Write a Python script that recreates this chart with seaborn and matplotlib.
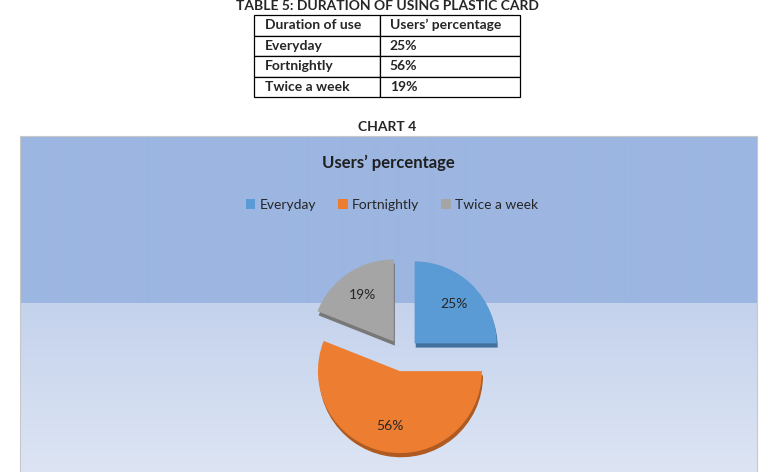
import numpy as np
import matplotlib
matplotlib.use("Agg")
from matplotlib import pyplot as plt
from matplotlib.patches import Patch
import matplotlib.patheffects as pe
import seaborn as sns

# data
categories = ["Everyday", "Fortnightly", "Twice a week"]
percentages = [25, 56, 19]
table_headers = ["Duration of use", "Users\u2019 percentage"]
table_title = "TABLE 5: DURATION OF USING PLASTIC CARD"
chart_caption = "CHART 4"
chart_title = "Users\u2019 percentage"

sns.set_style("white")
plt.rcParams['font.family'] = ['Lato', 'DejaVu Sans']

colors = ["#5b9bd5", "#ed7d31", "#a5a5a5"]
edge_colors = ["#41719c", "#ae5a21", "#787878"]

W, H = 771, 472
fig = plt.figure(figsize=(W / 100, H / 100), dpi=100)


def box(x0, y0, x1, y1):
    return [x0 / W, 1 - y1 / H, (x1 - x0) / W, (y1 - y0) / H]


# table title + table
fig.text(387 / W, 1 - 6 / H, table_title, ha='center', va='center',
         fontsize=10, fontweight='bold')
tax = fig.add_axes(box(254, 15, 520, 97))
tax.axis('off')
rows = [[c, f"{p}%"] for c, p in zip(categories, percentages)]
tbl = tax.table(cellText=rows, colLabels=table_headers,
                colWidths=[126 / 266, 140 / 266], bbox=[0, 0, 1, 1],
                cellLoc='left', colLoc='left')
tbl.auto_set_font_size(False)
for (r, c), cell in tbl.get_celld().items():
    cell.set_linewidth(0.9)
    cell.set_edgecolor('black')
    cell.PAD = 0.085 if c == 0 else 0.07
    cell.get_text().set_fontsize(10)
    cell.get_text().set_fontweight('bold')

fig.text(387 / W, 1 - 127 / H, chart_caption, ha='center', va='center',
         fontsize=10, fontweight='bold')

# chart background
bax = fig.add_axes(box(20, 136, 757, 472))
n = 336
grad = np.zeros((n, 1, 3))
top = np.array([0x9c, 0xb6, 0xe1]) / 255
mid = np.array([0xc4, 0xd2, 0xec]) / 255
bot = np.array([0xdd, 0xe5, 0xf4]) / 255
split = 167
for i in range(n):
    if i < split:
        grad[i, 0] = top
    else:
        t = (i - split) / (n - split)
        grad[i, 0] = mid * (1 - t) + bot * t
bax.imshow(grad, aspect='auto', extent=[0, 1, 0, 1], interpolation='bilinear')
bax.set_xticks([])
bax.set_yticks([])
for s in bax.spines.values():
    s.set_color('#c8c8c8')
    s.set_linewidth(0.8)

fig.text(388 / W, 1 - 163 / H, chart_title, ha='center', va='center',
         fontsize=12, fontweight='bold', color='#1f1f1f')

# pie
pax = fig.add_axes(box(280, 232, 526, 478))
wedges, texts, autotexts = pax.pie(
    percentages, colors=colors, explode=[0.2, 0.2, 0.2], startangle=90,
    counterclock=False, radius=1.0, autopct='%.0f%%', pctdistance=0.68,
    wedgeprops=dict(linewidth=0, edgecolor='none'),
    textprops=dict(fontsize=10, color='#262626'))
for w, ec in zip(wedges, edge_colors):
    w.set_path_effects([pe.SimplePatchShadow(offset=(0.8, -3), shadow_rgbFace=ec, alpha=1),
                        pe.Normal()])
pax.set_xlim(-1.5, 1.5)
pax.set_ylim(-1.5, 1.5)
pax.set_aspect('equal')
pax.axis('off')

handles = [Patch(facecolor=c, edgecolor='none') for c in colors]
fig.legend(handles, categories, loc='center', bbox_to_anchor=(392 / W, 1 - 205 / H),
           ncol=3, frameon=False, fontsize=10, handlelength=0.7, handleheight=0.7,
           handletextpad=0.3, columnspacing=1.6, labelcolor='#262626')

fig.savefig("out.png", dpi=100)
